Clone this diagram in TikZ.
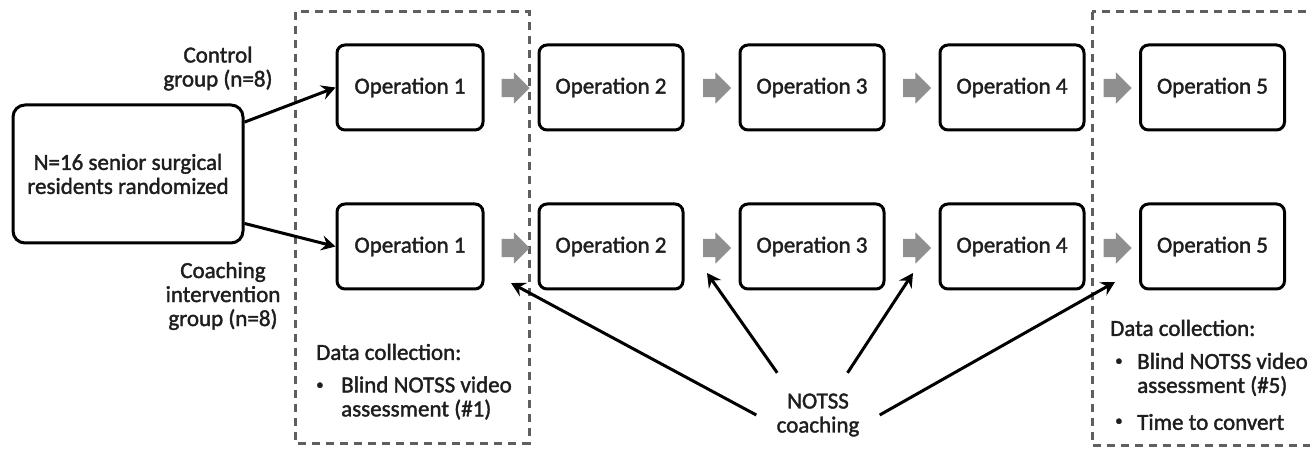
\documentclass[tikz,border=0pt]{standalone}
\usepackage{fontspec}
\setmainfont{Carlito}[FakeBold=1.6]
\usetikzlibrary{arrows.meta,shapes.arrows,calc}
\definecolor{arrowgray}{HTML}{8F8F8F}
\definecolor{dashgray}{HTML}{5F5F5F}
\definecolor{textc}{HTML}{1E1E1E}
\begin{document}
\begin{tikzpicture}[x=1pt,y=-1pt,
  font=\fontsize{23}{24}\selectfont,
  opbox/.style={draw=black, line width=3pt, rounded corners=8pt, minimum width=144pt, minimum height=85pt, inner sep=0pt, text=textc},
  garrow/.style={single arrow, fill=arrowgray, draw=none, text height=9pt, text depth=9pt, single arrow head extend=6.5pt, minimum height=28pt, inner sep=0pt, outer sep=0pt},
  conn/.style={line width=3pt, -{Stealth[length=14pt,width=15pt,inset=5pt]}},
  dbox/.style={draw=dashgray, line width=3pt, dash pattern=on 8pt off 6pt},
  lbl/.style={align=center, inner sep=0pt, text=textc},
  ltext/.style={anchor=west, inner sep=0pt, text=textc, align=left},
  bul/.style={anchor=west, inner sep=0pt, text=textc, font=\fontsize{15}{16}\selectfont}]
\fill[white] (0,0) rectangle (1310,449);
\useasboundingbox (0,0) rectangle (1310,449);
\clip (0,0) rectangle (1310,449);
% dashed data-collection frames
\draw[dbox] (295,12) rectangle (529,443);
\draw[dbox] (1092,12) rectangle (1340,445);
% randomization box
\node[draw=black, line width=3pt, rounded corners=12pt, minimum width=230pt, minimum height=138pt, lbl] (N) at (128,174) {N=16 senior surgical\\residents randomized};
% operation boxes, top row (control)
\node[opbox, minimum width=146pt] (op1a) at (410,87.5) {Operation 1};
\node[opbox] (op2a) at (611,87.5) {Operation 2};
\node[opbox] (op3a) at (812,87.5) {Operation 3};
\node[opbox] (op4a) at (1012,87.5) {Operation 4};
\node[opbox] (op5a) at (1212.5,87.5) {Operation 5};
% bottom row (coaching)
\node[opbox, minimum width=146pt] (op1b) at (410,246.5) {Operation 1};
\node[opbox] (op2b) at (611,246.5) {Operation 2};
\node[opbox] (op3b) at (812,246.5) {Operation 3};
\node[opbox] (op4b) at (1012,246.5) {Operation 4};
\node[opbox] (op5b) at (1212.5,246.5) {Operation 5};
% gray block arrows
\node[garrow] (ga1) at (511,88) {};
\node[garrow] (ga2) at (712.5,88) {};
\node[garrow] (ga3) at (912.5,88) {};
\node[garrow] (ga4) at (1113,88) {};
\node[garrow] (gb1) at (511,248) {};
\node[garrow] (gb2) at (712.5,248) {};
\node[garrow] (gb3) at (912.5,248) {};
\node[garrow] (gb4) at (1113,248) {};
% group labels
\node[lbl] (ctl) at (218,68.5) {Control\\group (n=8)};
\node[lbl] (coach) at (223,296) {Coaching\\intervention\\group (n=8)};
% data collection texts
\node[ltext] (dcl) at (316,352) {Data collection:};
\node[bul] (bl1) at (316,386) {•};
\node[ltext] (bl1t) at (341,398) {Blind NOTSS video\\assessment (\#1)};
\node[ltext] (dcr) at (1110,328) {Data collection:};
\node[bul] (br1) at (1115,362) {•};
\node[ltext] (br1t) at (1137,374.5) {Blind NOTSS video\\assessment (\#5)};
\node[bul] (br2) at (1115,422) {•};
\node[ltext] (br2t) at (1137,422) {Time to convert};
% NOTSS coaching
\node[lbl, minimum width=123pt, minimum height=84pt] (notss) at (818,415) {NOTSS\\coaching};
\coordinate (t1) at (511,283);
\coordinate (t2) at (707,273);
\coordinate (t3) at (913,273);
\coordinate (t4) at (1115,282);
% connectors
\draw[conn] (N.24) -- (op1a.west);
\draw[conn] (N.-23) -- (op1b.west);
\draw[conn] (notss.west) -- (t1);
\draw[conn] (notss.134) -- (t2);
\draw[conn] (notss.55) -- (t3);
\draw[conn] (notss.east) -- (t4);
\end{tikzpicture}
\end{document}
